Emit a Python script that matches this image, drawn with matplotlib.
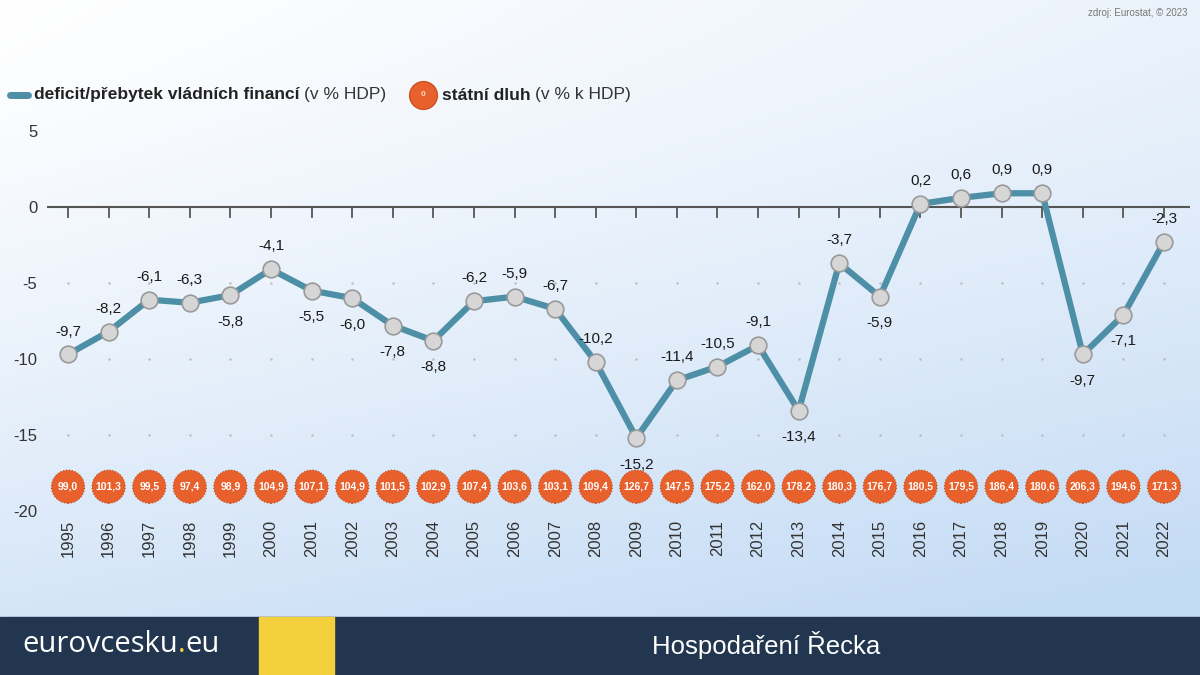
import numpy as np
import matplotlib.pyplot as plt
from matplotlib.patches import Rectangle

years = list(range(1995, 2023))
deficit = [-9.7, -8.2, -6.1, -6.3, -5.8, -4.1, -5.5, -6.0, -7.8, -8.8,
           -6.2, -5.9, -6.7, -10.2, -15.2, -11.4, -10.5, -9.1, -13.4, -3.7,
           -5.9, 0.2, 0.6, 0.9, 0.9, -9.7, -7.1, -2.3]
debt = [99.0, 101.3, 99.5, 97.4, 98.9, 104.9, 107.1, 104.9, 101.5, 102.9,
        107.4, 103.6, 103.1, 109.4, 126.7, 147.5, 175.2, 162.0, 178.2, 180.3,
        176.7, 180.5, 179.5, 186.4, 180.6, 206.3, 194.6, 171.3]
label_pos = ['a', 'a', 'a', 'a', 'b', 'a', 'b', 'b', 'b', 'b',
             'a', 'a', 'a', 'a', 'b', 'a', 'a', 'a', 'b', 'a',
             'b', 'a', 'a', 'a', 'a', 'b', 'b', 'a']
yticks = [5, 0, -5, -10, -15, -20]
debt_row = -18.4

plt.rcParams['font.family'] = ['Liberation Sans', 'DejaVu Sans']


def cz(v):
    return f'{v:.1f}'.replace('.', ',')


fig = plt.figure(figsize=(12, 6.75), dpi=100)

# background gradient: white top-left -> light blue bottom-right
bg = fig.add_axes([0, 0, 1, 1], zorder=0)
gx, gy = np.meshgrid(np.linspace(0, 1, 300), np.linspace(0, 1, 200))
grad = np.clip(0.35 * gx + 0.8 * gy ** 1.3, 0, 1)
c0 = np.array([1.0, 1.0, 1.0])
c1 = np.array([0.77, 0.86, 0.96])
img = c0[None, None, :] * (1 - grad[..., None]) + c1[None, None, :] * grad[..., None]
bg.imshow(img, extent=[0, 1, 0, 1], aspect='auto', origin='upper')
bg.set_xlim(0, 1)
bg.set_ylim(0, 1)
bg.axis('off')

# footer
bg.add_patch(Rectangle((0, 0), 1, 58 / 675, color='#22364f', zorder=2))
bg.add_patch(Rectangle((259 / 1200, 0), 75 / 1200, 58 / 675, color='#f4d03c', zorder=3))
logo_font = ['Open Sans', 'DejaVu Sans']
a1 = fig.text(22 / 1200, 30 / 675, 'eurovcesku', color='white', fontsize=21,
              family=logo_font, va='center', ha='left', zorder=5)
a2 = bg.annotate('.', xy=(1, 0.5), xycoords=a1, xytext=(0, 0), textcoords='offset points',
                 color='#f4d03c', fontsize=21, family=logo_font, va='center', ha='left',
                 annotation_clip=False, zorder=5)
bg.annotate('eu', xy=(1, 0.5), xycoords=a2, xytext=(0, 0), textcoords='offset points',
            color='white', fontsize=21, family=logo_font, va='center', ha='left',
            annotation_clip=False, zorder=5)
fig.text(652 / 1200, 30 / 675, 'Hospodaření Řecka', color='white', fontsize=18.5,
         va='center', ha='left', zorder=5)
fig.text(1188 / 1200, 1 - 13 / 675, 'zdroj: Eurostat, © 2023', color='#777777',
         fontsize=7, ha='right', va='center')

# main chart
ax = fig.add_axes([40 / 1200, 145 / 675, 1150 / 1200, 410 / 675], zorder=1)
ax.patch.set_alpha(0)
ax.set_xlim(1994.31, 2022.64)
ax.set_ylim(-21.25, 5.72)
for s in ax.spines.values():
    s.set_visible(False)
ax.set_xticks([])
ax.set_yticks(yticks)
ax.set_yticklabels([str(v) for v in yticks], fontsize=12, color='#333333')
ax.tick_params(axis='y', length=0, pad=2)

# legend (chained texts)
ly = 1 - 95 / 675
fig.add_artist(plt.Line2D([10 / 1200, 28 / 1200], [ly, ly], color='#4d8fa6',
                          lw=5, solid_capstyle='round', transform=fig.transFigure))
l1 = fig.text(34 / 1200, ly, 'deficit/přebytek vládních financí', fontsize=12.5,
              fontweight='bold', va='center', ha='left', color='#222222')
ax.annotate('(v % HDP)', xy=(1, 0.5), xycoords=l1, xytext=(3, 0), textcoords='offset points',
            fontsize=12.5, va='center', ha='left', color='#333333', annotation_clip=False)
fig.add_artist(plt.Line2D([423 / 1200], [ly], marker='o', markersize=20,
                          markerfacecolor='#e8602c', markeredgecolor='#c9521f',
                          transform=fig.transFigure))
fig.text(423 / 1200, ly, '0', fontsize=6, color='#ffd9c0', ha='center',
         va='center', fontweight='bold')
l2 = fig.text(442 / 1200, ly, 'státní dluh', fontsize=12.5, fontweight='bold',
              va='center', ha='left', color='#222222')
ax.annotate('(v % k HDP)', xy=(1, 0.5), xycoords=l2, xytext=(3, 0), textcoords='offset points',
            fontsize=12.5, va='center', ha='left', color='#333333', annotation_clip=False)

for g in [-5, -10, -15]:
    ax.plot(years, [g] * len(years), ls='none', marker='.', markersize=1.5,
            color='#bbbbbb', zorder=1)

ax.axhline(0, xmin=8 / 1150, xmax=1, color='#555555', lw=1.5, zorder=2)
for yr in years:
    ax.plot([yr, yr], [0, -0.65], color='#555555', lw=1.3, zorder=2)

ax.plot(years, deficit, color='#4d8fa6', lw=4.5, zorder=3,
        marker='o', markersize=12, markerfacecolor='#d6d6d6',
        markeredgecolor='#9a9a9a', markeredgewidth=1.2)

for yr, v, p in zip(years, deficit, label_pos):
    off = 1.5 if p == 'a' else -1.75
    ax.text(yr, v + off, cz(v), ha='center', va='center', fontsize=11,
            color='#1a1a1a', zorder=4)

ax.scatter(years, [debt_row] * len(years), s=570, color='#e8602c',
           edgecolors='#b5501f', linewidths=0.8, linestyle=':', zorder=3)
for yr, d in zip(years, debt):
    ax.text(yr, debt_row, cz(d), ha='center', va='center', fontsize=7.5,
            fontweight='bold', color='white', zorder=4)

for yr in years:
    ax.text(yr, -20.6, str(yr), rotation=90, ha='center', va='top',
            fontsize=12, color='#333333')

fig.savefig('out.png', dpi=100)
